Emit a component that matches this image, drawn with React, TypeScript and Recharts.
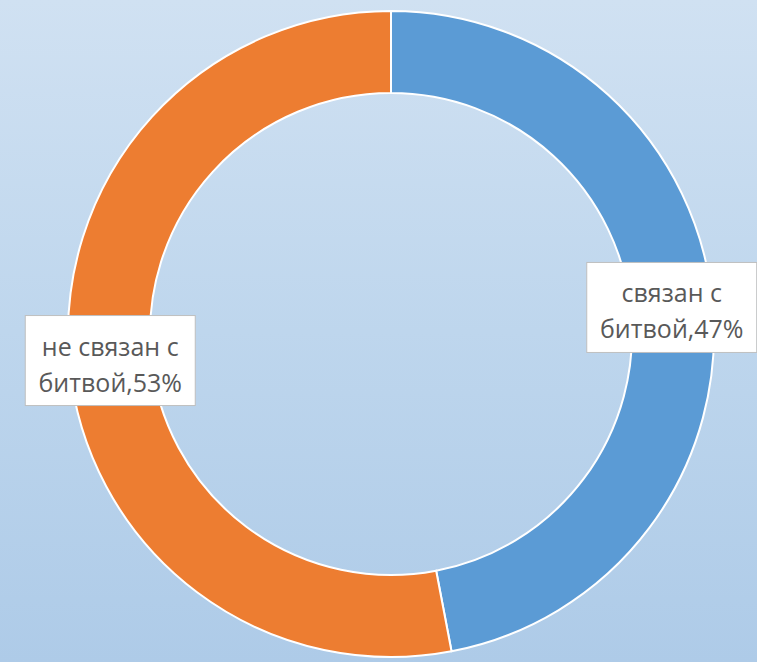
import React from "react";
import { PieChart, Pie, Cell } from "recharts";

const categories = ["связан с битвой", "не связан с битвой"];
const values = [47, 53];
const colors = ["#5B9BD5", "#ED7D31"];

const data = categories.map((name, i) => ({ name, value: values[i] }));
const total = values.reduce((a, b) => a + b, 0);

const RAD = Math.PI / 180;

const renderLabel = (props: any) => {
  const { cx, cy, midAngle, innerRadius, outerRadius, name, value } = props;
  const r = (innerRadius + outerRadius) / 2;
  const x = cx + r * Math.cos(-midAngle * RAD);
  const y = cy + r * Math.sin(-midAngle * RAD);
  const cut = name.lastIndexOf(" ");
  const line1 = name.slice(0, cut);
  const line2 = `${name.slice(cut + 1)},${Math.round((value / total) * 100)}%`;
  const w = 170;
  const h = 90;
  return (
    <g>
      <rect x={x - w / 2} y={y - h / 2} width={w} height={h} fill="#fff" stroke="#bfbfbf" strokeWidth={1} />
      <text x={x} y={y - 5} textAnchor="middle" fontSize={25} fill="#595959" fontFamily="'Open Sans', sans-serif">
        {line1}
      </text>
      <text x={x} y={y + 31} textAnchor="middle" fontSize={25} fill="#595959" fontFamily="'Open Sans', sans-serif">
        {line2}
      </text>
    </g>
  );
};

export default function App() {
  return (
    <div
      style={{
        position: "absolute",
        left: 0,
        top: 0,
        width: 757,
        height: 662,
        background: "linear-gradient(to bottom, #d0e1f2 0%, #bed6ed 50%, #aecbe8 100%)",
      }}
    >
      <PieChart width={757} height={662}>
        <Pie
          data={data}
          dataKey="value"
          nameKey="name"
          cx={386}
          cy={329}
          innerRadius={241}
          outerRadius={323}
          startAngle={90}
          endAngle={-270}
          stroke="#fff"
          strokeWidth={2}
          label={renderLabel}
          labelLine={false}
          isAnimationActive={false}
        >
          {data.map((_, i) => (
            <Cell key={i} fill={colors[i]} />
          ))}
        </Pie>
      </PieChart>
    </div>
  );
}
